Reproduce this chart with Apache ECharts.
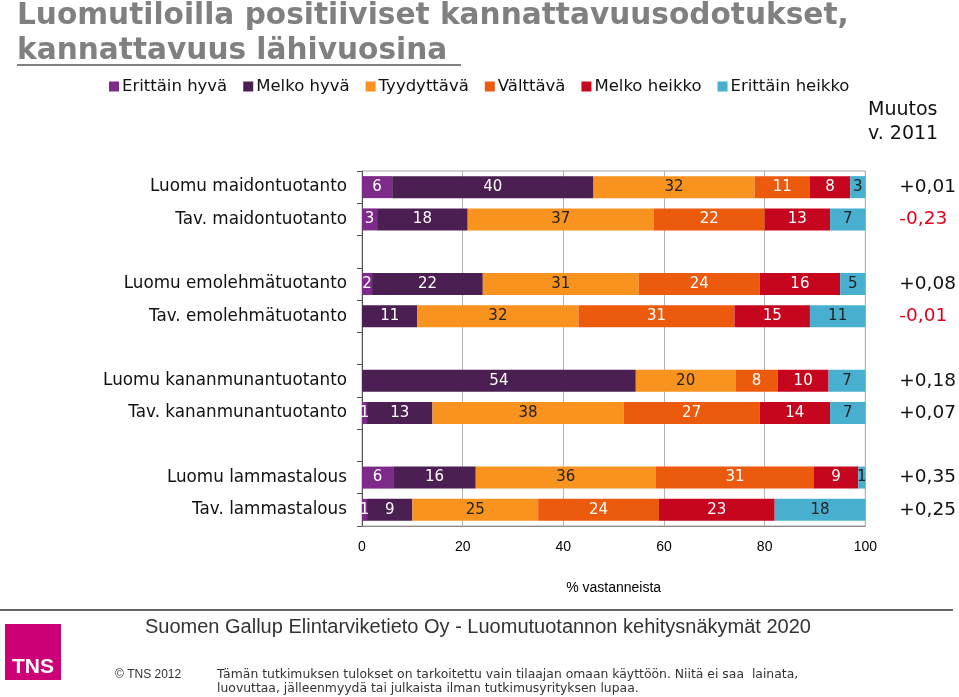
<!DOCTYPE html>
<html>
<head>
<meta charset="utf-8">
<script src="https://cdn.jsdelivr.net/npm/echarts@6/dist/echarts.min.js"></script>
<style>
html,body{margin:0;padding:0;background:#fff;}
#chart{width:959px;height:697px;}
</style>
</head>
<body>
<div id="chart"></div>
<script>
const categories = ['Luomu maidontuotanto','Tav. maidontuotanto',' ','Luomu emolehmätuotanto','Tav. emolehmätuotanto','  ','Luomu kananmunantuotanto','Tav. kananmunantuotanto','   ','Luomu lammastalous','Tav. lammastalous'];
const changes = ['+0,01','-0,23',' ','+0,08','-0,01','  ','+0,18','+0,07','   ','+0,35','+0,25'];
const seriesNames = ['Erittäin hyvä','Melko hyvä','Tyydyttävä','Välttävä','Melko heikko','Erittäin heikko'];
const erittainHyva   = [6, 3, '-', 2, 0, '-', 0, 1, '-', 6.2, 1];
const melkoHyva      = [40, 18, '-', 22, 11, '-', 54.4, 13, '-', 16.4, 9];
const tyydyttava     = [32, 37, '-', 31, 32, '-', 19.8, 38, '-', 35.8, 25];
const valttava       = [11, 22, '-', 24, 31, '-', 8.4, 27, '-', 31.4, 24];
const melkoHeikko    = [8, 13, '-', 16, 15, '-', 10.1, 14, '-', 8.8, 23];
const erittainHeikko = [3, 7, '-', 5, 11, '-', 7.3, 7, '-', 1.4, 18];
const xTicks = [0, 20, 40, 60, 80, 100];

const colors = ['#7E2A8A','#4B1F52','#F7931E','#EC5A0E','#C5061E','#48AFCF'];
const labelColors = ['#fff','#fff','#222','#fff','#fff','#222'];
const allData = [erittainHyva, melkoHyva, tyydyttava, valttava, melkoHeikko, erittainHeikko];

const chart = echarts.init(document.getElementById('chart'));
const series = allData.map((d, i) => ({
  name: seriesNames[i],
  type: 'bar',
  stack: 'total',
  barWidth: 22,
  data: d,
  itemStyle: { color: colors[i] },
  label: {
    show: true,
    position: 'inside',
    color: labelColors[i],
    fontFamily: 'DejaVu Sans',
    fontSize: 15,
    formatter: p => (typeof p.value === 'number' && p.value > 0) ? String(Math.round(p.value)) : ''
  },
  emphasis: { disabled: true }
}));

chart.setOption({
  animation: false,
  backgroundColor: '#fff',
  legend: {
    data: seriesNames,
    left: 104,
    top: 73,
    icon: 'rect',
    itemWidth: 10,
    itemHeight: 10,
    itemGap: 16,
    textStyle: { fontFamily: 'DejaVu Sans', fontSize: 16.5, color: '#111', padding: [0,0,0,-2] }
  },
  grid: {
    left: 362, right: 93, top: 171, bottom: 171,
    show: true, borderColor: '#a6a6a6', borderWidth: 1
  },
  xAxis: {
    type: 'value',
    min: 0, max: 100, interval: 20,
    axisLine: { show: true, lineStyle: { color: '#8c8c8c' } },
    axisTick: { show: false },
    splitLine: { show: true, lineStyle: { color: '#b3b3b3' } },
    axisLabel: { fontFamily: 'Liberation Sans', fontSize: 14, color: '#000', margin: 14,
      formatter: v => xTicks.includes(v) ? String(v) : '' },
    name: '% vastanneista',
    nameLocation: 'middle',
    nameGap: 55,
    nameTextStyle: { fontFamily: 'Liberation Sans', fontSize: 14, color: '#000' }
  },
  yAxis: [{
    type: 'category',
    data: categories,
    inverse: true,
    axisLine: { show: true, lineStyle: { color: '#555' } },
    axisTick: { show: true, length: 5, lineStyle: { color: '#555' } },
    axisLabel: { fontFamily: 'DejaVu Sans', fontSize: 16.8, color: '#111', margin: 15 }
  }, {
    type: 'category',
    data: changes,
    inverse: true,
    position: 'right',
    axisLine: { show: false },
    axisTick: { show: false },
    axisLabel: {
      margin: 34,
      align: 'left',
      formatter: v => v.trim() === '' ? '' : (v.startsWith('-') ? '{neg|' + v + '}' : '{pos|' + v + '}'),
      rich: {
        pos: { fontFamily: 'DejaVu Sans', fontSize: 18.5, color: '#111' },
        neg: { fontFamily: 'DejaVu Sans', fontSize: 18.5, color: '#E0001B' }
      }
    }
  }],
  series: series,
  graphic: [
    { type: 'text', left: 17, top: 1, style: { text: 'Luomutiloilla positiiviset kannattavuusodotukset,', font: 'bold 29.6px "DejaVu Sans"', fill: '#808080' } },
    { type: 'text', left: 17, top: 36, style: { text: 'kannattavuus lähivuosina', font: 'bold 29.6px "DejaVu Sans"', fill: '#808080' } },
    { type: 'line', shape: { x1: 17, y1: 65, x2: 461, y2: 65 }, style: { stroke: '#808080', lineWidth: 2 } },
    { type: 'text', left: 868, top: 98, style: { text: 'Muutos\nv. 2011', font: '19px "DejaVu Sans"', fill: '#111', lineHeight: 24 } },
    { type: 'line', shape: { x1: 0, y1: 610, x2: 953, y2: 610 }, style: { stroke: '#666', lineWidth: 2 } },
    { type: 'text', left: 145, top: 617, style: { text: 'Suomen Gallup Elintarviketieto Oy - Luomutuotannon kehitysnäkymät 2020', font: '20px "Liberation Sans"', fill: '#333' } },
    { type: 'rect', shape: { x: 5, y: 624, width: 56, height: 56 }, style: { fill: '#CC0077' } },
    { type: 'text', left: 12, top: 657, style: { text: 'TNS', font: 'bold 21px "Liberation Sans Narrow", "Liberation Sans"', fill: '#fff' } },
    { type: 'text', left: 115, top: 669, style: { text: '© TNS 2012', font: '12px "Liberation Sans"', fill: '#333' } },
    { type: 'text', left: 217, top: 668, style: { text: 'Tämän tutkimuksen tulokset on tarkoitettu vain tilaajan omaan käyttöön. Niitä ei saa  lainata,\nluovuttaa, jälleenmyydä tai julkaista ilman tutkimusyrityksen lupaa.', font: '12.4px "DejaVu Sans"', fill: '#333', lineHeight: 14 } }
  ]
});
</script>
</body>
</html>
